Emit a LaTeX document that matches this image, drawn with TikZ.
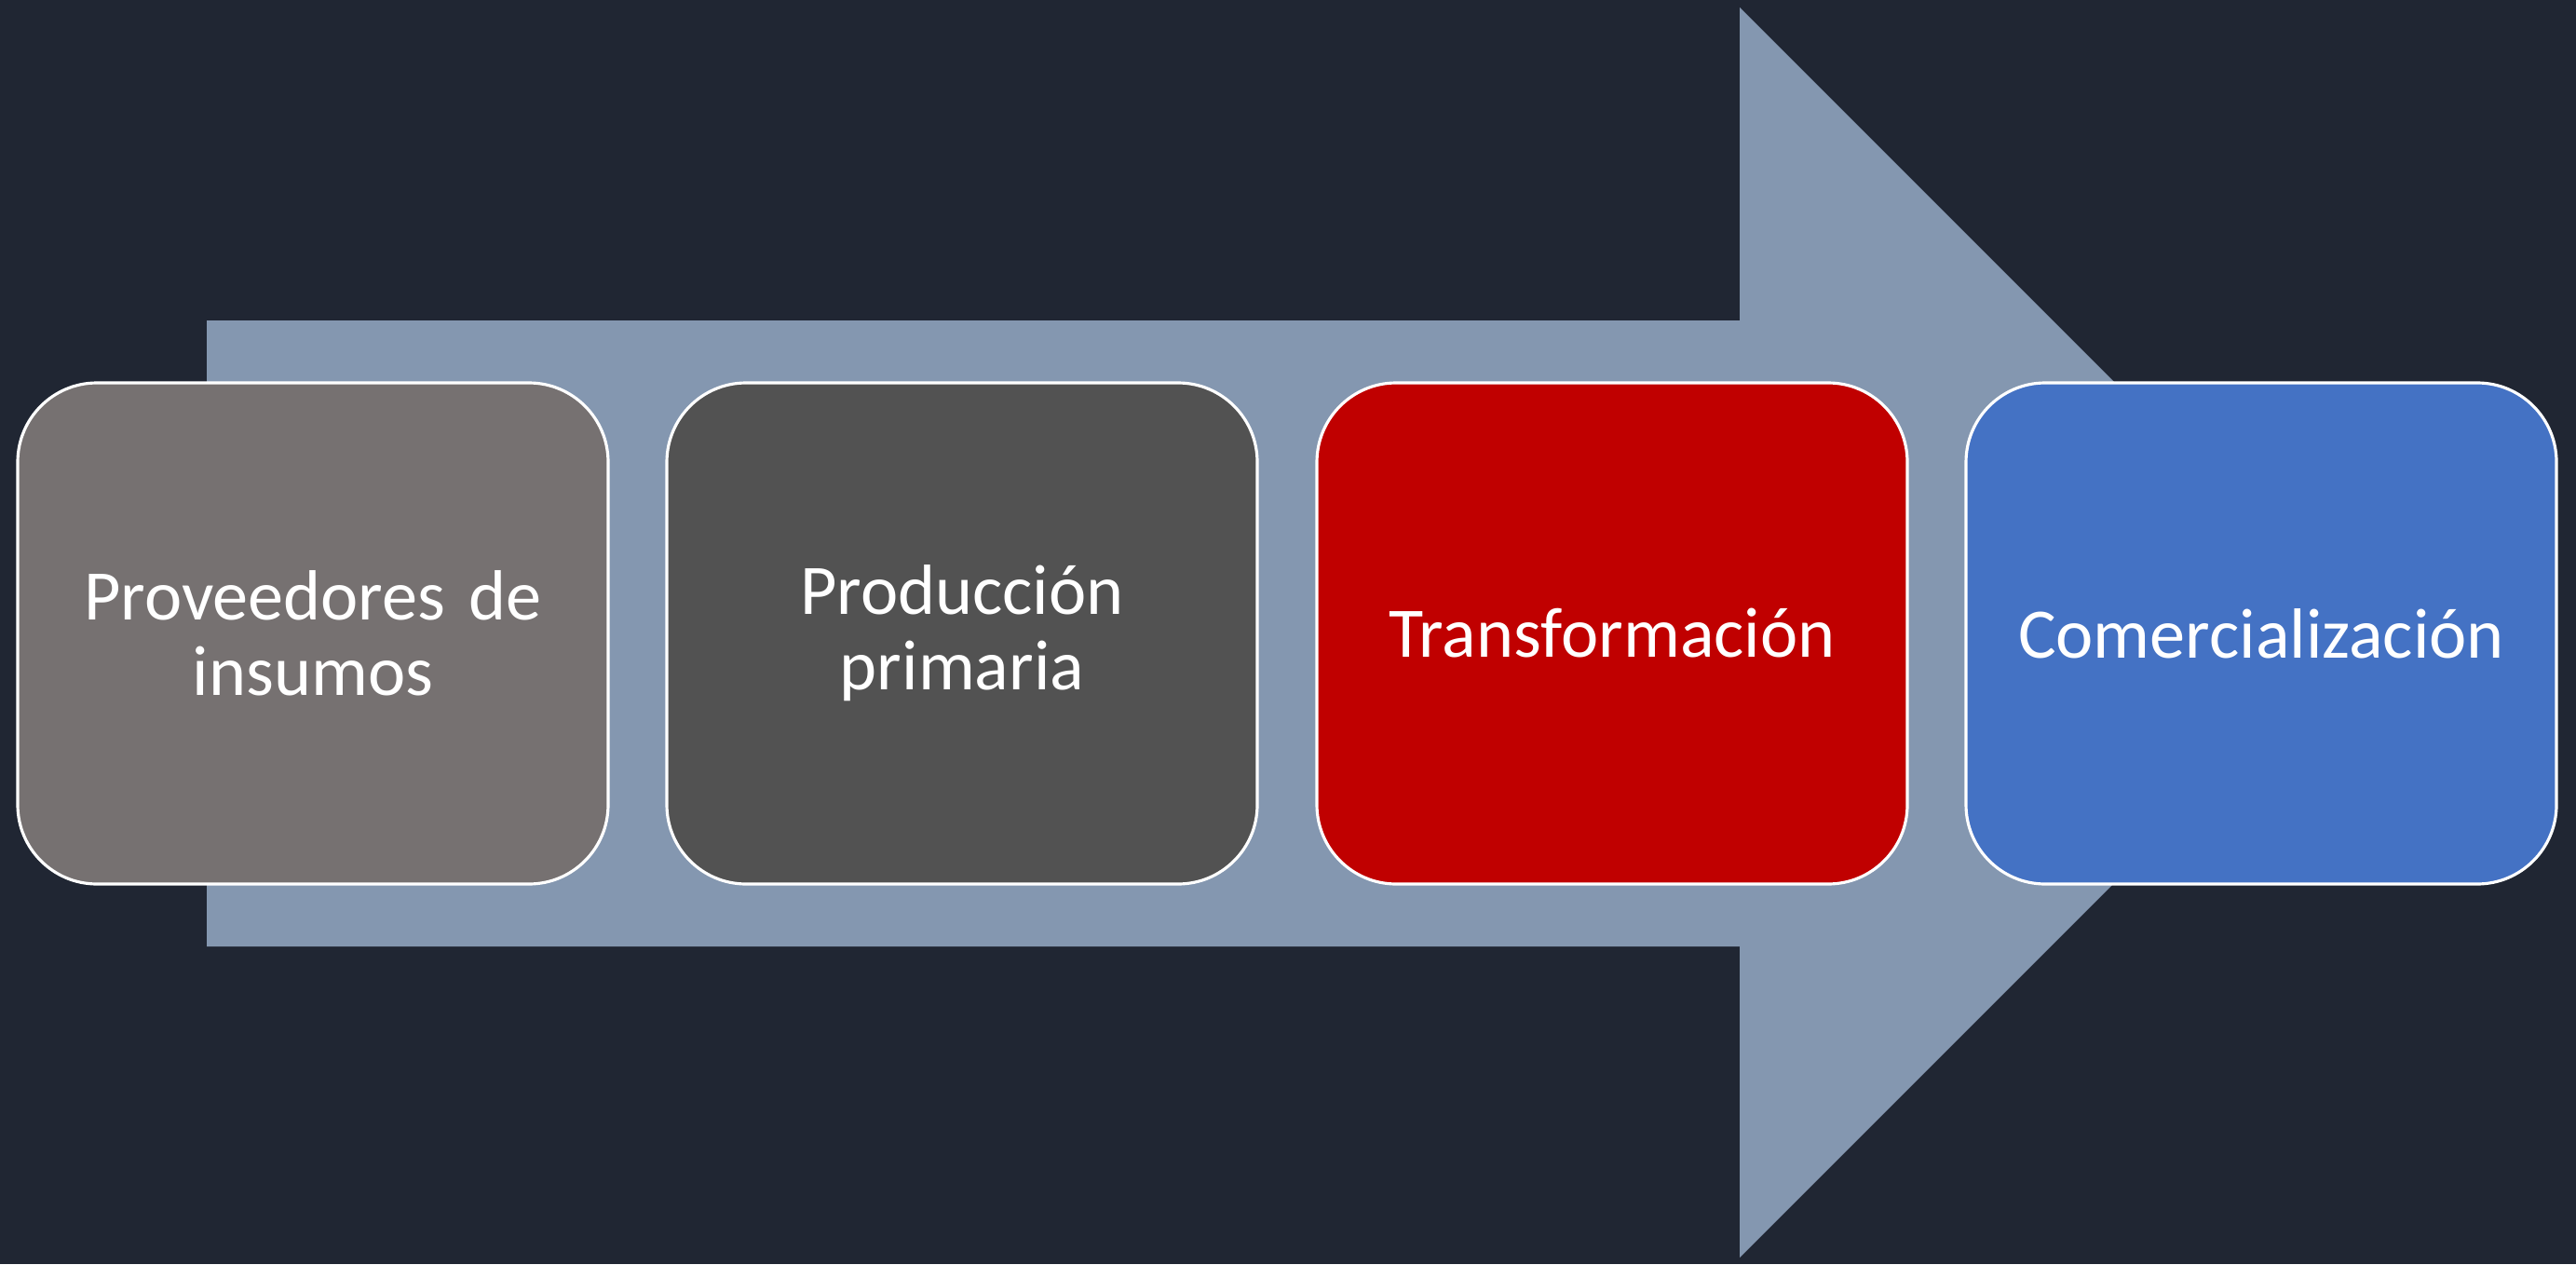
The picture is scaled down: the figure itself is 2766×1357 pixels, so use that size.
\documentclass[tikz,border=0pt]{standalone}
\usepackage{fontspec}
\setmainfont{Carlito}
\definecolor{bgdark}{HTML}{202633}
\definecolor{arrowgray}{HTML}{8497B0}
\definecolor{provgray}{HTML}{767171}
\definecolor{prodgray}{HTML}{525252}
\definecolor{transred}{HTML}{C00000}
\definecolor{comblue}{HTML}{4472C4}
\tikzset{
  stage/.style={rectangle, rounded corners=8.5mm, draw=white, line width=0.9pt,
    minimum width=63.4mm, minimum height=53.8mm, text width=60mm, align=center,
    text=white, font=\fontsize{21.7}{23}\selectfont}
}
\begin{document}
\begin{tikzpicture}[x=0.1mm,y=0.1mm]
  \fill[bgdark] (0,0) rectangle (2766,1357);
  % big arrow behind the stages
  \fill[arrowgray] (222,341) -- (222,1013) -- (1868,1013) -- (1868,1349) -- (2539,678)
    -- (1868,7) -- (1868,341) -- cycle;
  \node[stage, fill=provgray] (prov) at (336,677) {Proveedores de\\insumos};
  \node[stage, fill=prodgray] (prod) at (1033,677) {Producción\\primaria};
  \node[stage, fill=transred] (trans) at (1731,677) {Transformación};
  \node[stage, fill=comblue] (com) at (2428,677) {Comercialización};
\end{tikzpicture}
\end{document}
